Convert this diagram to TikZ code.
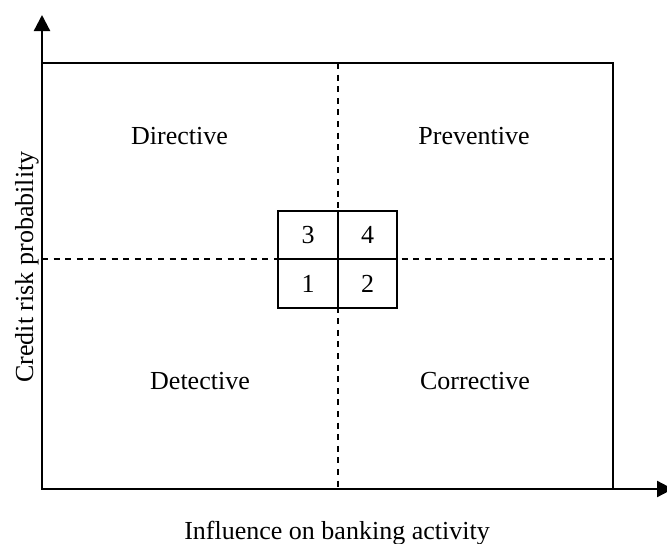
\documentclass[tikz,border=0pt]{standalone}
\usepackage{fontspec}
\setmainfont{Liberation Serif}
\usetikzlibrary{arrows.meta}
\begin{document}
\begin{tikzpicture}[x=0.75pt,y=-0.75pt,
  lbl/.style={font=\fontsize{19.5}{23}\selectfont, inner sep=0pt, anchor=base},
  axis/.style={line width=1.7pt, -{Triangle[length=12pt,width=12pt]}},
  frame/.style={line width=1.5pt},
  divider/.style={line width=1pt, dash pattern=on 4.5pt off 4.2pt},
  cell/.style={draw, line width=1.5pt, minimum width=44.5pt, minimum height=36.5pt,
    inner sep=0pt, font=\fontsize{19.5}{23}\selectfont}]
\useasboundingbox (0,0) rectangle (667,543);

% axes
\coordinate (o) at (42,489);
\coordinate (ytip) at (42,15);
\coordinate (xtip) at (673,489);
\draw[axis] (o) -- (ytip);
\draw[axis] (o) -- (xtip);

% outer frame
\coordinate (tl) at (42,63);
\coordinate (br) at (613,489);
\draw[frame] (tl) rectangle (br);

% quadrant dividers
\coordinate (vt) at (338,63);
\coordinate (vb) at (338,489);
\coordinate (hl) at (42,259);
\coordinate (hr) at (613,259);
\draw[divider] (vt) -- (vb);
\draw[divider] (hl) -- (hr);

% central matrix
\node[cell, fill=white] (c3) at (308,235) {3};
\node[cell, fill=white] (c4) at (367.5,235) {4};
\node[cell, fill=white] (c1) at (308,283.5) {1};
\node[cell, fill=white] (c2) at (367.5,283.5) {2};

% quadrant labels
\node[lbl] (dir) at (179.5,144) {Directive};
\node[lbl] (pre) at (474,144) {Preventive};
\node[lbl] (det) at (200,389) {Detective};
\node[lbl] (cor) at (475,389) {Corrective};

% axis labels
\node[lbl] (xl) at (337,539) {Influence on banking activity};
\node[lbl, rotate=90] (yl) at (33,267) {Credit risk probability};
\end{tikzpicture}
\end{document}
